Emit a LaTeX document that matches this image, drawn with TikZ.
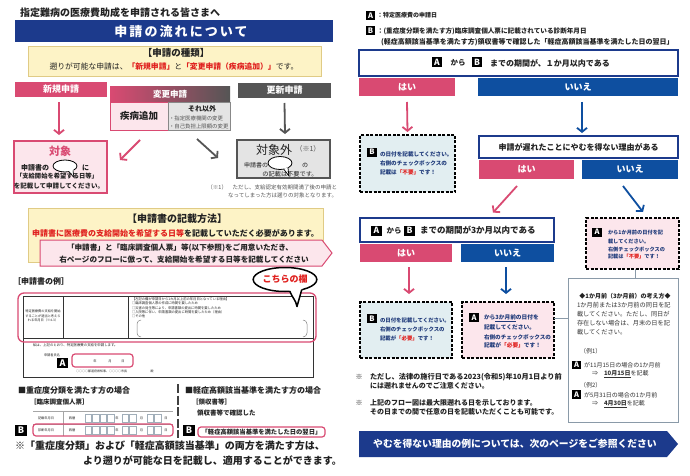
\documentclass[tikz,border=0pt]{standalone}
\usepackage{fontspec}
\setmainfont{Noto Sans CJK JP}
\usetikzlibrary{arrows.meta,shadings,shapes.geometric}
\definecolor{navy}{HTML}{1C3A8C}
\definecolor{blu}{HTML}{0E4FA0}
\definecolor{crim}{HTML}{D94A72}
\definecolor{dgray}{HTML}{555555}
\definecolor{lpink}{HTML}{FCE6EC}
\definecolor{lblue}{HTML}{E2EEF1}
\definecolor{ylw}{HTML}{FDF3C6}
\definecolor{ylwb}{HTML}{E0CB85}
\definecolor{redt}{HTML}{E0201E}
\definecolor{ntext}{HTML}{1F3A7A}
\definecolor{txt}{HTML}{222222}
\definecolor{lgray}{HTML}{E4E4E4}
\definecolor{fgray}{HTML}{8A9AA8}
\newcommand\fsz[1]{\fontsize{#1}{#1}\selectfont}
\tikzset{
 every node/.style={inner sep=0pt,outer sep=0pt,text=txt},
 hd/.style={fill=#1,text=white,font=\bfseries\fsz{9}},
 badge/.style={fill=black,text=white,font=\bfseries\fsz{7.5},minimum width=9.5pt,minimum height=9pt},
 badgeL/.style={fill=black,text=white,font=\bfseries\fsz{8.5},minimum width=10.5pt,minimum height=10pt},
 arr/.style={line width=1.8pt,-{Straight Barb[length=4pt,width=10pt]}},
 dbox/.style={draw=black,line width=1.3pt,dash pattern=on 3pt off 1.5pt},
 qbox/.style={draw=navy,line width=1.2pt,fill=white},
 yb/.style={fill=ylw,draw=ylwb,line width=0.8pt},
 prr/.style={draw=crim,line width=1.2pt,rounded corners=3pt},
 conn/.style={draw=fgray,line width=0.8pt},
 nt/.style={text=ntext,font=\bfseries\fsz{5.6},anchor=west},
}
\begin{document}
\begin{tikzpicture}[x=1pt,y=-1pt]
\useasboundingbox (0,0) rectangle (690,476);
\fill[white] (0,0) rectangle (690,476);

% ---------- LEFT PAGE ----------
\node[anchor=west,font=\bfseries\fsz{10}] (ttl) at (20,13) {指定難病の医療費助成を申請される皆さまへ};
\node[fill=navy,minimum width=318pt,minimum height=22pt] (ban) at (174,31) {};
\node[text=white,font=\bfseries\fsz{13}\addfontfeature{LetterSpace=16}] (bant) at (181,31.5) {申請の流れについて};

\node[yb,minimum width=293pt,minimum height=30pt] (y1) at (174.5,61) {};
\node[font=\bfseries\fsz{9.5}] (y1a) at (176,52.5) {【申請の種類】};
\node[font=\fsz{7.8}] (y1b) at (174,66.5) {遡りが可能な申請は、\textcolor{redt}{\bfseries「新規申請」}と\textcolor{redt}{\bfseries「変更申請（疾病追加）」}です。};

% new application
\node[hd=crim,minimum width=92pt,minimum height=15pt] (hn) at (61,89.5) {新規申請};
\node[fill=lpink,draw=crim,line width=1.5pt,minimum width=93pt,minimum height=52pt] (tn) at (60.5,167) {};
\node[text=crim,font=\bfseries\fsz{11}] (tn1) at (60,151) {対象};
\node[anchor=west,font=\bfseries\fsz{7}] (tn2) at (21,167.5) {申請書の};
\node[ellipse,draw=black,fill=white,line width=0.8pt,minimum width=24pt,minimum height=12pt] (tno) at (65,166) {};
\fill[white] (68.5,170.5) -- (74,177.5) -- (73.5,169.5) -- cycle;
\draw[line width=0.7pt] (68.8,171.6) -- (74,177.5) -- (73,170.5);
\node[anchor=west,font=\bfseries\fsz{7}] (tn3) at (82,167.5) {に};
\node[font=\bfseries\fsz{6.3}] (tn4) at (57,176.5) {「支給開始を希望する日等」};
\node[font=\bfseries\fsz{6.5}] (tn5) at (59,186.5) {を記載して申請してください。};

% change application
\node[left color=crim,right color=dgray,minimum width=120pt,minimum height=15pt,text=white,font=\bfseries\fsz{8.5}] (hc) at (170,94.5) {変更申請};
\node[fill=lpink,draw=crim,line width=0.8pt,minimum width=58pt,minimum height=28pt,font=\bfseries\fsz{9.5}] (hc1) at (139,116) {疾病追加};
\node[fill=lgray,draw=dgray!70,line width=0.8pt,minimum width=62pt,minimum height=28pt] (hc2) at (199,116) {};
\node[font=\bfseries\fsz{7}] (hc2a) at (202,109) {それ以外};
\node[anchor=west,font=\fsz{5.4},text=dgray] (hc2b) at (169,118.5) {・指定医療機関の変更};
\node[anchor=west,font=\fsz{5.4},text=dgray] (hc2c) at (169,126) {・自己負担上限額の変更};

% renewal
\node[hd=dgray,minimum width=93pt,minimum height=15pt] (hu) at (284.5,90.5) {更新申請};
\node[fill=lgray,draw=dgray,line width=1.5pt,minimum width=93pt,minimum height=38pt] (tx) at (283.5,159) {};
\node[font=\fsz{12}] (tx1) at (274,150) {対象外};
\node[font=\fsz{7},text=dgray] (tx2) at (308,149) {（※1）};
\node[font=\fsz{6}] (tx3) at (256,165) {申請書の};
\node[ellipse,draw=black,fill=white,line width=0.8pt,minimum width=24pt,minimum height=13pt] (txo) at (280,163) {};
\fill[white] (283.5,168.8) -- (289,176) -- (288,167.5) -- cycle;
\draw[line width=0.7pt] (283.8,169.2) -- (289,176) -- (288,168);
\node[font=\fsz{6}] (tx4) at (305,165) {の};
\node[font=\fsz{6.2}] (tx5) at (290,174.5) {の記載は不要です。};

% left arrows
\coordinate (pa2) at (120,160);
\coordinate (ga2) at (218,158);
\draw[arr,crim] ([xshift=-2pt,yshift=-5.5pt]hn.south) -- ([xshift=-1.5pt,yshift=6pt]tn.north);
\draw[arr,crim] ([xshift=1pt,yshift=-10pt]hc1.south) -- (pa2);
\draw[arr,dgray] ([xshift=-2pt,yshift=-9pt]hc2.south) -- (ga2);
\draw[arr,dgray] ([yshift=-5pt]hu.south) -- ([xshift=1.5pt,yshift=6pt]tx.north);

\node[anchor=east,font=\fsz{5.5},text=dgray] (fn1) at (337,187) {（※1）　ただし、支給認定有効期間満了後の申請と};
\node[anchor=east,font=\fsz{5.5},text=dgray] (fn2) at (337,195) {なってしまった方は遡りの対象となります。};

% yellow 2
\node[yb,minimum width=295pt,minimum height=54pt] (y2) at (175.5,235) {};
\node[font=\bfseries\fsz{10}] (y2a) at (177,219) {【申請書の記載方法】};
\node[font=\bfseries\fsz{8}] (y2b) at (175.5,233) {\textcolor{redt}{申請書に医療費の支給開始を希望する日等}を記載していただく必要があります。};
\path[fill=lpink,draw=crim,line width=1pt] (40,240) -- (322,240) -- (332,253) -- (322,266) -- (40,266) -- cycle;
\node[font=\bfseries\fsz{7.6}] (pba) at (180,248) {「申請書」と「臨床調査個人票」等(以下参照)をご用意いただき、};
\node[font=\bfseries\fsz{7.6}] (pbb) at (184,259.5) {右ページのフローに倣って、支給開始を希望する日等を記載してください};

% form example
\node[anchor=west,font=\bfseries\fsz{8}] (ex) at (13,281) {［申請書の例］};
\draw[line width=0.6pt,draw=black!80] (23,296) rectangle (313,377);
\draw[line width=0.6pt,draw=black!80] (23,338) -- (313,338) (63,296) -- (63,338) (128,296) -- (128,338);
\node[draw=crim,line width=1.3pt,rounded corners=6pt,minimum width=298pt,minimum height=49pt] (frow) at (167,317.5) {};
\node[font=\fontsize{3.2}{4.4}\selectfont,align=center] (fc1) at (43,316) {特定医療費の支給を開始\\することが適当と考えら\\れる年月日（※4-3）};
\node[anchor=north west,font=\fontsize{3.3}{4.2}\selectfont,align=left] (fc3) at (132,298) {【左記の欄が申請日から1カ月以上前の年月日となっている理由】\\□臨床調査個人票の作成に時間を要したため\\□災害の発生等により、申請書類の提出に時間を要したため\\□入院等に伴い、申請書類の提出に時間を要したため（理由）\\□その他};
\draw[black!50,line width=0.5pt] (141,320) to[out=180,in=90] (137,324) -- (137,333) to[out=-90,in=180] (141,337);
\draw[black!50,line width=0.5pt] (303,320) to[out=0,in=90] (307,324) -- (307,333) to[out=-90,in=0] (303,337);
\node[anchor=west,font=\fsz{3.4}] (f1) at (33,345) {私は、上記のとおり、特定医療費の支給を申請します。};
\node[font=\fsz{3.2}] (f2) at (52,355) {申請者氏名};
\node[badgeL,minimum width=11pt,font=\bfseries\fsz{9}] (fa) at (62.5,363) {A};
\node[prr,minimum width=61pt,minimum height=13pt] (fd) at (102.5,360.5) {};
\node[font=\fsz{3.2}] (fd1) at (95,361) {年};
\node[font=\fsz{3.2}] (fd2) at (110,361) {月};
\node[font=\fsz{3.2}] (fd3) at (123,361) {日};
\node[anchor=west,font=\fsz{3}] (f3) at (76,371) {○○○○都道府県知事、○○○○市長};
\node[font=\fsz{3}] (f4) at (152,371) {殿};

% speech bubble
\node[ellipse,draw=black,line width=1.5pt,fill=white,minimum width=60pt,minimum height=24pt,text=redt,font=\bfseries\fsz{9}] (bub) at (285,279.5) {こちらの欄};
\fill[white] (289.5,290) -- (297,306.5) -- (302.5,288) -- cycle;
\draw[line width=1.5pt,line join=round] (289.8,291.2) to[out=-70,in=100] (297,306.5) -- (301.8,289.5);

% bottom left
\node[anchor=west,font=\bfseries\fsz{8}] (s1) at (18,390) {■重症度分類を満たす方の場合};
\node[anchor=west,font=\bfseries\fsz{6.5}] (s1b) at (30,402) {［臨床調査個人票］};
\draw[black!35,line width=0.4pt] (33,411.5) -- (173,411.5) (33,423.8) -- (173,423.8) (63,411.5) -- (63,436);
\node[font=\fsz{3.2}] (tr1) at (46,418) {記載年月日};
\node[font=\fsz{3.2}] (tr2) at (46,430) {診断年月日};
\foreach \yy/\nm in {418/a,430/b} {
  \node[font=\fsz{3.2}] (se\nm) at (72,\yy) {西暦};
  \node[font=\fsz{3.2}] (yr\nm) at (117,\yy) {年};
  \node[font=\fsz{3.2}] (mo\nm) at (141.5,\yy) {月};
  \node[font=\fsz{3.2}] (dy\nm) at (166,\yy) {日};
  \foreach \xx in {85,92.5,100,107.5,122,129.5,147,154.5}
    \draw[draw=fgray!80,line width=0.5pt] (\xx,\yy-4) rectangle ++(6.5,8);
}
\node[prr,minimum width=140pt,minimum height=12pt] (tp) at (103,430) {};
\node[badgeL,minimum width=12pt,minimum height=11pt,font=\bfseries\fsz{9}] (b1) at (21,430.5) {B};
\draw[black!75,line width=1.5pt,dash pattern=on 9pt off 2.5pt] (178,384) -- (178,438);
\node[anchor=west,font=\bfseries\fsz{8}] (s2) at (185,390) {■軽症高額該当基準を満たす方の場合};
\node[anchor=west,font=\bfseries\fsz{6.5}] (s2b) at (192,402) {［領収書等］};
\node[anchor=west,font=\bfseries\fsz{6.5}] (s2c) at (197,413) {領収書等で確認した};
\node[badgeL,minimum width=12pt,minimum height=11pt,font=\bfseries\fsz{9}] (b2) at (189,430.5) {B};
\node[prr,minimum width=127pt,minimum height=10pt,font=\bfseries\fsz{6.3}] (s2d) at (261.5,432) {「軽症高額該当基準を満たした日の翌日」};
\node[anchor=west,font=\bfseries\fsz{10}] (n1) at (15,446) {※「重症度分類」および「軽症高額該当基準」の両方を満たす方は、};
\node[anchor=west,font=\bfseries\fsz{10}] (n2) at (83,461) {より遡りが可能な日を記載し、適用することができます。};

% ---------- RIGHT PAGE ----------
\node[badge] (la) at (370.5,15.5) {A};
\node[anchor=west,font=\bfseries\fsz{6}] (lat) at (377,15.5) {：特定医療費の申請日};
\node[badge] (lb) at (370.5,31) {B};
\node[anchor=west,font=\bfseries\fsz{6.6}] (lbt) at (377,31) {：(重症度分類を満たす方)臨床調査個人票に記載されている診断年月日};
\node[anchor=west,font=\bfseries\fsz{7}] (lbt2) at (381,42) {(軽症高額該当基準を満たす方)領収書等で確認した「軽症高額該当基準を満たした日の翌日」};

\node[qbox,minimum width=319pt,minimum height=26pt] (q1) at (518.5,63) {};
\node[badgeL] (q1a) at (437,62.5) {A};
\node[font=\bfseries\fsz{7.5}] (q1k) at (458,63) {から};
\node[badgeL] (q1b) at (477,62.5) {B};
\node[anchor=west,font=\bfseries\fsz{8}] (q1t) at (490,63) {までの期間が、１か月以内である};

\node[hd=crim,minimum width=96pt,minimum height=18pt] (yh1) at (407,87) {はい};
\node[hd=blu,minimum width=200pt,minimum height=18pt] (nh1) at (578,87) {いいえ};

\node[dbox,fill=lblue,minimum width=95pt,minimum height=57pt] (d1) at (407.5,163.5) {};
\node[badge] (d1b) at (372,152) {B};
\node[nt] (d1t1) at (380,154) {の日付を記載してください。};
\node[nt] (d1t2) at (380,163) {右側のチェックボックスの};
\node[nt] (d1t3) at (380,172) {記載は\textcolor{redt}{「不要」}です！};

\node[qbox,minimum width=199pt,minimum height=22pt,font=\bfseries\fsz{8}] (q2) at (578.5,147) {申請が遅れたことにやむを得ない理由がある};
\node[hd=crim,minimum width=95pt,minimum height=19pt] (yh2) at (526.5,169.5) {はい};
\node[hd=blu,minimum width=96pt,minimum height=19pt] (nh2) at (630,169.5) {いいえ};

\node[qbox,minimum width=194pt,minimum height=24pt] (q3) at (457,230) {};
\node[badgeL] (q3a) at (376.5,230.5) {A};
\node[font=\bfseries\fsz{7.5}] (q3k) at (394,230.5) {から};
\node[badgeL] (q3b) at (409.5,230.5) {B};
\node[anchor=west,font=\bfseries\fsz{8.5}] (q3t) at (420,230.5) {までの期間が3か月以内である};
\node[hd=crim,minimum width=92pt,minimum height=18pt] (yh3) at (406,253) {はい};
\node[hd=blu,minimum width=93pt,minimum height=18pt] (nh3) at (507.5,253) {いいえ};

\node[dbox,fill=lpink,minimum width=93pt,minimum height=51pt] (d2) at (632.5,243.5) {};
\node[badge] (d2a) at (597,232) {A};
\node[nt,font=\bfseries\fsz{5.2}] (d2t1) at (608,233) {から1か月前の日付を記};
\node[nt,font=\bfseries\fsz{5.2}] (d2t2) at (608,241.5) {載してください。};
\node[nt,font=\bfseries\fsz{5.2}] (d2t3) at (608,249.5) {右側チェックボックスの};
\node[nt,font=\bfseries\fsz{5.2}] (d2t4) at (608,257) {記載は\textcolor{redt}{「不要」}です！};

\node[dbox,fill=lblue,minimum width=92pt,minimum height=56pt] (d3) at (406,330) {};
\node[badge] (d3b) at (372,318.5) {B};
\node[nt,font=\bfseries\fsz{5.4}] (d3t1) at (380,320) {の日付を記載してください。};
\node[nt,font=\bfseries\fsz{5.4}] (d3t2) at (380,329) {右側のチェックボックスの};
\node[nt,font=\bfseries\fsz{5.4}] (d3t3) at (380,338) {記載が\textcolor{redt}{「必要」}です！};

\node[dbox,fill=lpink,minimum width=92pt,minimum height=56pt] (d4) at (508,330) {};
\node[badge] (d4a) at (474,317.5) {A};
\node[nt,font=\bfseries\fsz{5.7}] (d4t1) at (484,318) {から\underline{3か月前}の日付を};
\node[nt,font=\bfseries\fsz{5.7}] (d4t2) at (484,327) {記載してください。};
\node[nt,font=\bfseries\fsz{5.6}] (d4t3) at (484,337) {右側のチェックボックスの};
\node[nt,font=\bfseries\fsz{5.7}] (d4t4) at (484,345) {記載が\textcolor{redt}{「必要」}です！};

\node[draw=fgray,line width=0.8pt,fill=white,minimum width=110pt,minimum height=144pt] (ib) at (623,350) {};
\node[font=\bfseries\fsz{6}] (ib1) at (625,296) {◆1か月前（3か月前）の考え方◆};
\node[anchor=west,font=\fsz{6.2},text=black!80] (ib2) at (577,305) {1か月前または3か月前の同日を記};
\node[anchor=west,font=\fsz{6.2},text=black!80] (ib3) at (577,314) {載してください。ただし、同日が};
\node[anchor=west,font=\fsz{6.2},text=black!80] (ib4) at (577,323) {存在しない場合は、月末の日を記};
\node[anchor=west,font=\fsz{6.2},text=black!80] (ib5) at (577,332) {載してください。};
\node[anchor=west,font=\fsz{6},text=black!80] (ib6) at (580,351) {（例1）};
\node[badge,minimum width=9pt,minimum height=8.5pt] (ib7a) at (576.5,365) {A};
\node[anchor=west,font=\fsz{6},text=black!80] (ib7) at (584,365) {が11月15日の場合の1か月前};
\node[anchor=west,font=\fsz{6},text=black!80] (ib8) at (592,374) {⇒　\underline{\textbf{10月15日}}を記載};
\node[anchor=west,font=\fsz{6},text=black!80] (ib9) at (580,385) {（例2）};
\node[badge,minimum width=9pt,minimum height=8.5pt] (ib10a) at (576.5,394.5) {A};
\node[anchor=west,font=\fsz{6},text=black!80] (ib10) at (584,395) {が5月31日の場合の1か月前};
\node[anchor=west,font=\fsz{6},text=black!80] (ib11) at (592,404) {⇒　\underline{\textbf{4月30日}}を記載};

\draw[conn] ([xshift=2.5pt]d2.south) -- ([xshift=12pt]ib.north);
\draw[conn] ([yshift=12pt]d4.east) -- ([yshift=12pt]d4.east -| ib.west);

% right arrows
\draw[arr,crim] ([yshift=-6pt]yh1.south) -- ([yshift=3pt]d1.north);
\draw[arr,blu] ([xshift=4pt,yshift=-6pt]nh1.south) -- ([xshift=3.5pt,yshift=3pt]q2.north);
\draw[arr,crim] ([xshift=-9.5pt,yshift=-7pt]yh2.south) -- ([xshift=36pt,yshift=5.4pt]q3.north);
\draw[arr,blu] ([xshift=-7pt,yshift=-7pt]nh2.south) -- ([xshift=10.5pt,yshift=6pt]d2.north);
\draw[arr,crim] ([xshift=3pt,yshift=-5pt]yh3.south) -- ([xshift=3pt,yshift=8pt]d3.north);
\draw[arr,blu] ([xshift=-1.5pt,yshift=-5pt]nh3.south) -- ([xshift=-2pt,yshift=8pt]d4.north);

% notes
\node[font=\bfseries\fsz{7}] (rn1s) at (359,377) {※};
\node[anchor=west,font=\bfseries\fsz{7.2}] (rn1) at (370,377) {ただし、法律の施行日である2023(令和5)年10月1日より前};
\node[anchor=west,font=\bfseries\fsz{7}] (rn2) at (370,385.5) {には遡れませんのでご注意ください。};
\node[font=\bfseries\fsz{7}] (rn3s) at (359,403) {※};
\node[anchor=west,font=\bfseries\fsz{7}] (rn3) at (370,403) {上記のフロー図は最大限遡れる日を示しております。};
\node[anchor=west,font=\bfseries\fsz{7}] (rn4) at (370,412) {その日までの間で任意の日を記載いただくことも可能です。};

\path[fill=navy] (359,431) -- (667,431) -- (678,444) -- (667,457) -- (359,457) -- cycle;
\node[text=white,font=\bfseries\fsz{9.8}] (bb) at (515,444) {やむを得ない理由の例については、次のページをご参照ください};
\end{tikzpicture}
\end{document}
